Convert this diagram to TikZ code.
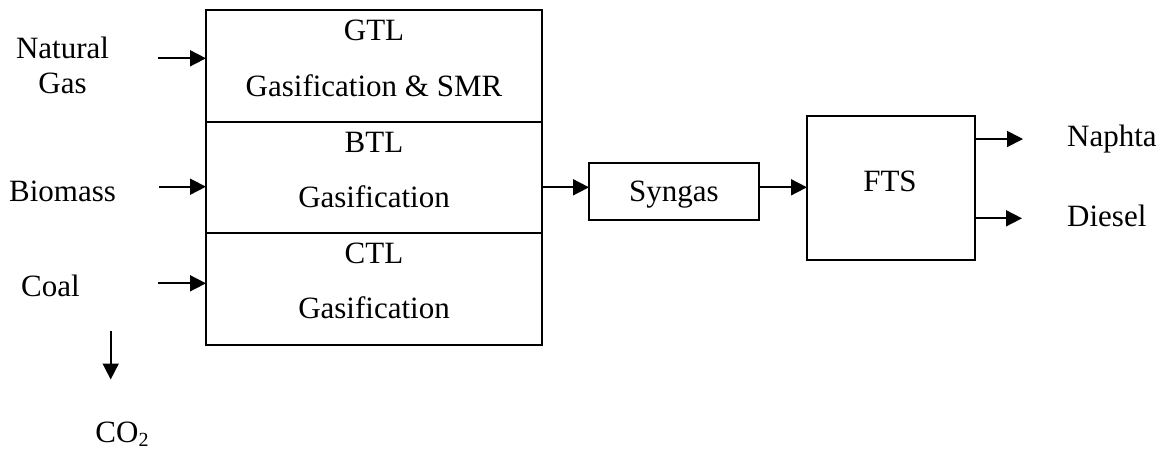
\documentclass[tikz,border=0pt]{standalone}
\usepackage{fontspec}
\setmainfont{Liberation Serif}
\usetikzlibrary{arrows.meta}
\begin{document}
\begin{tikzpicture}[x=1pt,y=-1pt,
  box/.style={draw,line width=2pt,inner sep=0pt,outer sep=0pt,anchor=north west},
  lbl/.style={font=\fontsize{31}{36}\selectfont,inner sep=0pt,anchor=base},
  flow/.style={line width=1.7pt,-{Triangle[length=16pt,width=16pt]}}]
\useasboundingbox (0,0) rectangle (1166,451);
% process boxes
\node[box,minimum width=336pt,minimum height=112pt] (gtl) at (206,10) {};
\node[box,minimum width=336pt,minimum height=111pt] (btl) at (206,122) {};
\node[box,minimum width=336pt,minimum height=112pt] (ctl) at (206,233) {};
\node[box,minimum width=170pt,minimum height=57pt] (syn) at (589,163) {};
\node[box,minimum width=168pt,minimum height=144pt] (fts) at (807,116) {};
% box texts
\node[lbl] (gtlt) at (374,40) {GTL};
\node[lbl] (gtls) at (374,96) {Gasification \& SMR};
\node[lbl] (btlt) at (374,152) {BTL};
\node[lbl] (btls) at (374,207) {Gasification};
\node[lbl] (ctlt) at (374,263) {CTL};
\node[lbl] (ctls) at (374,318) {Gasification};
\node[lbl] (synt) at (674,201.5) {Syngas};
\node[lbl] (ftst) at (890,191) {FTS};
% side labels
\node[lbl] (ng1) at (62.5,58) {Natural};
\node[lbl] (ng2) at (62.5,93) {Gas};
\node[lbl] (bio) at (62.5,201.5) {Biomass};
\node[lbl] (coal) at (50.5,296.5) {Coal};
\node[lbl] (co2) at (122,442) {CO\raisebox{-0.15em}{\fontsize{20}{24}\selectfont 2}};
\node[lbl,anchor=base west] (nap) at (1067,146) {Naphta};
\node[lbl,anchor=base west] (die) at (1067,226) {Diesel};
% arrow ends
\coordinate (nga) at (158,58.3);
\coordinate (bia) at (159,186.7);
\coordinate (coa) at (158,283.3);
\coordinate (cos) at (110.7,331);
\coordinate (coe) at (110.7,379.5);
\coordinate (sy) at (0,187.3);
\coordinate (nae) at (1023,139);
\coordinate (dee) at (1022,218.3);
% connectors
\draw[flow] (nga) -- (nga -| gtl.west);
\draw[flow] (bia) -- (bia -| btl.west);
\draw[flow] (coa) -- (coa -| ctl.west);
\draw[flow] (cos) -- (coe);
\draw[flow] (btl.east |- sy) -- (syn.west |- sy);
\draw[flow] (syn.east |- sy) -- (fts.west |- sy);
\draw[flow] (fts.east |- nae) -- (nae);
\draw[flow] (fts.east |- dee) -- (dee);
\end{tikzpicture}
\end{document}
